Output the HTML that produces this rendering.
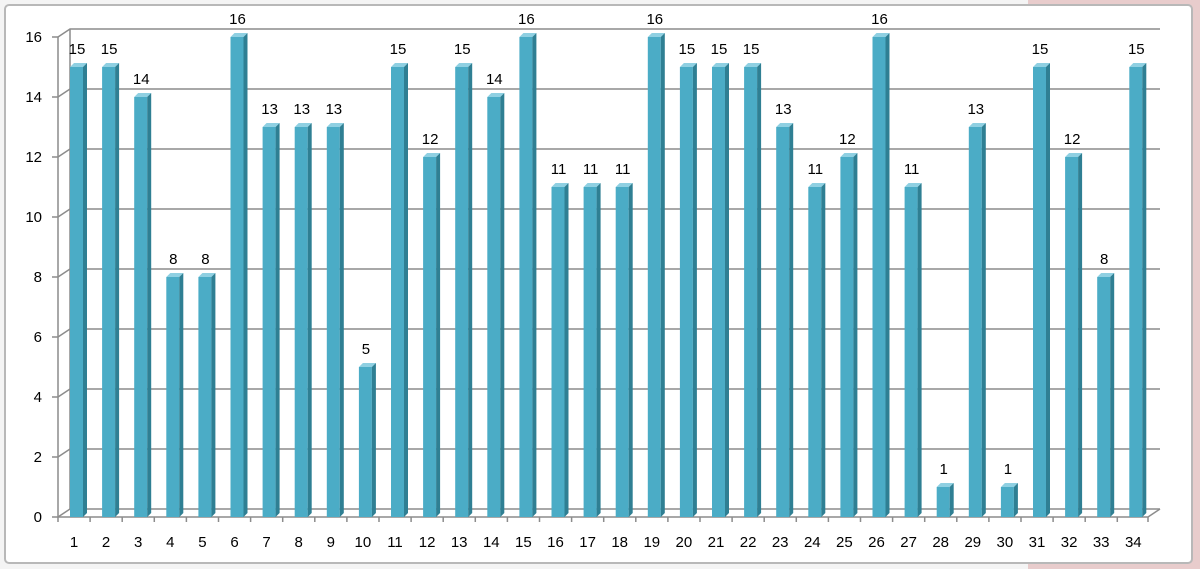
<!DOCTYPE html>
<html><head><meta charset="utf-8"><style>
html,body{margin:0;padding:0;background:#fff;}
svg{display:block;font-family:"Liberation Sans",sans-serif;}
.b rect{fill:#4bacc6}
.b .t{fill:#8fd0e2}
.b .s{fill:#2f7f93}
.b text{font-size:15px;text-anchor:middle;fill:#000}
.g{stroke:#8c8c8c;stroke-width:1.5;fill:none}
.yl{font-size:15px;text-anchor:end}
.xl{font-size:15px;text-anchor:middle}
</style></head><body>
<svg width="1200" height="569" viewBox="0 0 1200 569">
<rect x="0" y="0" width="1200" height="569" fill="#f4f4f4"/>
<rect x="1028" y="0" width="172" height="569" fill="#e8cccc"/>
<rect x="5" y="5" width="1187" height="558" rx="4" fill="#fff" stroke="#b8b8b8" stroke-width="2"/>
<g class="g">
<path d="M58,517 L70,509 L1160,509 M58,457 L70,449 L1160,449 M58,397 L70,389 L1160,389 M58,337 L70,329 L1160,329 M58,277 L70,269 L1160,269 M58,217 L70,209 L1160,209 M58,157 L70,149 L1160,149 M58,97 L70,89 L1160,89 M58,37 L70,29 L1160,29"/>
<path d="M70,29 L70,509 M58,37 L58,517 L1148,517 L1160,509"/>
<path d="M52,517 h6 M52,457 h6 M52,397 h6 M52,337 h6 M52,277 h6 M52,217 h6 M52,157 h6 M52,97 h6 M52,37 h6"/>
<path d="M58,517v5 M90.1,517v5 M122.2,517v5 M154.3,517v5 M186.4,517v5 M218.5,517v5 M250.6,517v5 M282.7,517v5 M314.8,517v5 M346.9,517v5 M379,517v5 M411.1,517v5 M443.2,517v5 M475.3,517v5 M507.4,517v5 M539.5,517v5 M571.6,517v5 M603.7,517v5 M635.8,517v5 M667.9,517v5 M700,517v5 M732.1,517v5 M764.2,517v5 M796.3,517v5 M828.4,517v5 M860.5,517v5 M892.6,517v5 M924.7,517v5 M956.8,517v5 M988.9,517v5 M1021,517v5 M1053.1,517v5 M1085.2,517v5 M1117.3,517v5 M1148,517v5"/>
</g>
<g class="yl">
<text x="42" y="522">0</text><text x="42" y="462">2</text><text x="42" y="402">4</text><text x="42" y="342">6</text><text x="42" y="282">8</text><text x="42" y="222">10</text><text x="42" y="162">12</text><text x="42" y="102">14</text><text x="42" y="42">16</text>
</g>
<g class="xl">
<text x="74" y="547">1</text><text x="106.1" y="547">2</text><text x="138.2" y="547">3</text><text x="170.3" y="547">4</text><text x="202.4" y="547">5</text><text x="234.5" y="547">6</text><text x="266.6" y="547">7</text><text x="298.7" y="547">8</text><text x="330.8" y="547">9</text><text x="362.9" y="547">10</text><text x="395" y="547">11</text><text x="427.1" y="547">12</text><text x="459.2" y="547">13</text><text x="491.3" y="547">14</text><text x="523.4" y="547">15</text><text x="555.5" y="547">16</text><text x="587.6" y="547">17</text><text x="619.7" y="547">18</text><text x="651.8" y="547">19</text><text x="683.9" y="547">20</text><text x="716" y="547">21</text><text x="748.1" y="547">22</text><text x="780.2" y="547">23</text><text x="812.3" y="547">24</text><text x="844.4" y="547">25</text><text x="876.5" y="547">26</text><text x="908.6" y="547">27</text><text x="940.7" y="547">28</text><text x="972.8" y="547">29</text><text x="1004.9" y="547">30</text><text x="1037" y="547">31</text><text x="1069.1" y="547">32</text><text x="1101.2" y="547">33</text><text x="1133.3" y="547">34</text>
</g>
<g class="b">
<g transform="translate(70,67)"><rect width="13" height="450"/><polygon class="t" points="0,0 4,-4 17,-4 13,0"/><polygon class="s" points="13,0 17,-4 17,446 13,450"/><text x="7" y="-13">15</text></g>
<g transform="translate(102.1,67)"><rect width="13" height="450"/><polygon class="t" points="0,0 4,-4 17,-4 13,0"/><polygon class="s" points="13,0 17,-4 17,446 13,450"/><text x="7" y="-13">15</text></g>
<g transform="translate(134.2,97)"><rect width="13" height="420"/><polygon class="t" points="0,0 4,-4 17,-4 13,0"/><polygon class="s" points="13,0 17,-4 17,416 13,420"/><text x="7" y="-13">14</text></g>
<g transform="translate(166.3,277)"><rect width="13" height="240"/><polygon class="t" points="0,0 4,-4 17,-4 13,0"/><polygon class="s" points="13,0 17,-4 17,236 13,240"/><text x="7" y="-13">8</text></g>
<g transform="translate(198.4,277)"><rect width="13" height="240"/><polygon class="t" points="0,0 4,-4 17,-4 13,0"/><polygon class="s" points="13,0 17,-4 17,236 13,240"/><text x="7" y="-13">8</text></g>
<g transform="translate(230.5,37)"><rect width="13" height="480"/><polygon class="t" points="0,0 4,-4 17,-4 13,0"/><polygon class="s" points="13,0 17,-4 17,476 13,480"/><text x="7" y="-13">16</text></g>
<g transform="translate(262.6,127)"><rect width="13" height="390"/><polygon class="t" points="0,0 4,-4 17,-4 13,0"/><polygon class="s" points="13,0 17,-4 17,386 13,390"/><text x="7" y="-13">13</text></g>
<g transform="translate(294.7,127)"><rect width="13" height="390"/><polygon class="t" points="0,0 4,-4 17,-4 13,0"/><polygon class="s" points="13,0 17,-4 17,386 13,390"/><text x="7" y="-13">13</text></g>
<g transform="translate(326.8,127)"><rect width="13" height="390"/><polygon class="t" points="0,0 4,-4 17,-4 13,0"/><polygon class="s" points="13,0 17,-4 17,386 13,390"/><text x="7" y="-13">13</text></g>
<g transform="translate(358.9,367)"><rect width="13" height="150"/><polygon class="t" points="0,0 4,-4 17,-4 13,0"/><polygon class="s" points="13,0 17,-4 17,146 13,150"/><text x="7" y="-13">5</text></g>
<g transform="translate(391,67)"><rect width="13" height="450"/><polygon class="t" points="0,0 4,-4 17,-4 13,0"/><polygon class="s" points="13,0 17,-4 17,446 13,450"/><text x="7" y="-13">15</text></g>
<g transform="translate(423.1,157)"><rect width="13" height="360"/><polygon class="t" points="0,0 4,-4 17,-4 13,0"/><polygon class="s" points="13,0 17,-4 17,356 13,360"/><text x="7" y="-13">12</text></g>
<g transform="translate(455.2,67)"><rect width="13" height="450"/><polygon class="t" points="0,0 4,-4 17,-4 13,0"/><polygon class="s" points="13,0 17,-4 17,446 13,450"/><text x="7" y="-13">15</text></g>
<g transform="translate(487.3,97)"><rect width="13" height="420"/><polygon class="t" points="0,0 4,-4 17,-4 13,0"/><polygon class="s" points="13,0 17,-4 17,416 13,420"/><text x="7" y="-13">14</text></g>
<g transform="translate(519.4,37)"><rect width="13" height="480"/><polygon class="t" points="0,0 4,-4 17,-4 13,0"/><polygon class="s" points="13,0 17,-4 17,476 13,480"/><text x="7" y="-13">16</text></g>
<g transform="translate(551.5,187)"><rect width="13" height="330"/><polygon class="t" points="0,0 4,-4 17,-4 13,0"/><polygon class="s" points="13,0 17,-4 17,326 13,330"/><text x="7" y="-13">11</text></g>
<g transform="translate(583.6,187)"><rect width="13" height="330"/><polygon class="t" points="0,0 4,-4 17,-4 13,0"/><polygon class="s" points="13,0 17,-4 17,326 13,330"/><text x="7" y="-13">11</text></g>
<g transform="translate(615.7,187)"><rect width="13" height="330"/><polygon class="t" points="0,0 4,-4 17,-4 13,0"/><polygon class="s" points="13,0 17,-4 17,326 13,330"/><text x="7" y="-13">11</text></g>
<g transform="translate(647.8,37)"><rect width="13" height="480"/><polygon class="t" points="0,0 4,-4 17,-4 13,0"/><polygon class="s" points="13,0 17,-4 17,476 13,480"/><text x="7" y="-13">16</text></g>
<g transform="translate(679.9,67)"><rect width="13" height="450"/><polygon class="t" points="0,0 4,-4 17,-4 13,0"/><polygon class="s" points="13,0 17,-4 17,446 13,450"/><text x="7" y="-13">15</text></g>
<g transform="translate(712,67)"><rect width="13" height="450"/><polygon class="t" points="0,0 4,-4 17,-4 13,0"/><polygon class="s" points="13,0 17,-4 17,446 13,450"/><text x="7" y="-13">15</text></g>
<g transform="translate(744.1,67)"><rect width="13" height="450"/><polygon class="t" points="0,0 4,-4 17,-4 13,0"/><polygon class="s" points="13,0 17,-4 17,446 13,450"/><text x="7" y="-13">15</text></g>
<g transform="translate(776.2,127)"><rect width="13" height="390"/><polygon class="t" points="0,0 4,-4 17,-4 13,0"/><polygon class="s" points="13,0 17,-4 17,386 13,390"/><text x="7" y="-13">13</text></g>
<g transform="translate(808.3,187)"><rect width="13" height="330"/><polygon class="t" points="0,0 4,-4 17,-4 13,0"/><polygon class="s" points="13,0 17,-4 17,326 13,330"/><text x="7" y="-13">11</text></g>
<g transform="translate(840.4,157)"><rect width="13" height="360"/><polygon class="t" points="0,0 4,-4 17,-4 13,0"/><polygon class="s" points="13,0 17,-4 17,356 13,360"/><text x="7" y="-13">12</text></g>
<g transform="translate(872.5,37)"><rect width="13" height="480"/><polygon class="t" points="0,0 4,-4 17,-4 13,0"/><polygon class="s" points="13,0 17,-4 17,476 13,480"/><text x="7" y="-13">16</text></g>
<g transform="translate(904.6,187)"><rect width="13" height="330"/><polygon class="t" points="0,0 4,-4 17,-4 13,0"/><polygon class="s" points="13,0 17,-4 17,326 13,330"/><text x="7" y="-13">11</text></g>
<g transform="translate(936.7,487)"><rect width="13" height="30"/><polygon class="t" points="0,0 4,-4 17,-4 13,0"/><polygon class="s" points="13,0 17,-4 17,26 13,30"/><text x="7" y="-13">1</text></g>
<g transform="translate(968.8,127)"><rect width="13" height="390"/><polygon class="t" points="0,0 4,-4 17,-4 13,0"/><polygon class="s" points="13,0 17,-4 17,386 13,390"/><text x="7" y="-13">13</text></g>
<g transform="translate(1000.9,487)"><rect width="13" height="30"/><polygon class="t" points="0,0 4,-4 17,-4 13,0"/><polygon class="s" points="13,0 17,-4 17,26 13,30"/><text x="7" y="-13">1</text></g>
<g transform="translate(1033,67)"><rect width="13" height="450"/><polygon class="t" points="0,0 4,-4 17,-4 13,0"/><polygon class="s" points="13,0 17,-4 17,446 13,450"/><text x="7" y="-13">15</text></g>
<g transform="translate(1065.1,157)"><rect width="13" height="360"/><polygon class="t" points="0,0 4,-4 17,-4 13,0"/><polygon class="s" points="13,0 17,-4 17,356 13,360"/><text x="7" y="-13">12</text></g>
<g transform="translate(1097.2,277)"><rect width="13" height="240"/><polygon class="t" points="0,0 4,-4 17,-4 13,0"/><polygon class="s" points="13,0 17,-4 17,236 13,240"/><text x="7" y="-13">8</text></g>
<g transform="translate(1129.3,67)"><rect width="13" height="450"/><polygon class="t" points="0,0 4,-4 17,-4 13,0"/><polygon class="s" points="13,0 17,-4 17,446 13,450"/><text x="7" y="-13">15</text></g>
</g>
</svg>
</body></html>
